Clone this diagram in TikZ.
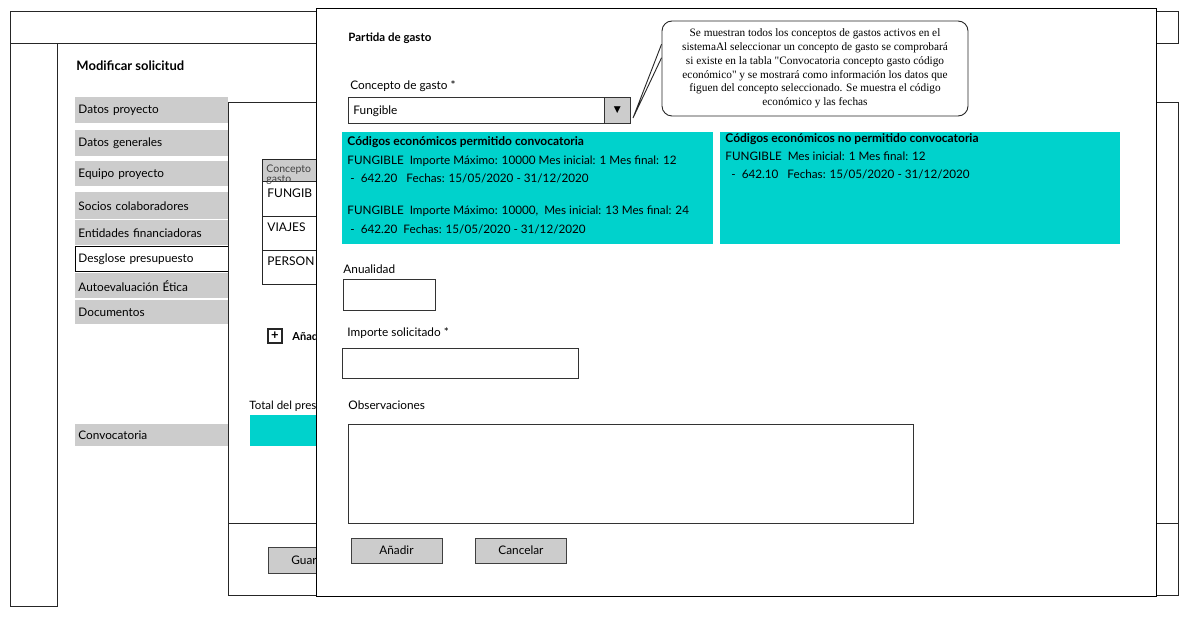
\documentclass[tikz,border=0pt]{standalone}
\usepackage{fontspec}
\setmainfont{Lato}
\newfontfamily\notefont{Liberation Serif}
\newfontfamily\dejavu{DejaVu Sans}
\usetikzlibrary{positioning}
\definecolor{menugray}{RGB}{204,204,204}
\definecolor{aqua}{RGB}{0,210,204}

\begin{document}
\begin{tikzpicture}[x=1pt, y=-1pt, line width=0.9pt,
    every node/.style={inner sep=0pt, font=\fontsize{11.8}{14}\selectfont},
    frame/.style={draw=black!85, fill=white, anchor=north west},
    item/.style={fill=menugray, anchor=north west, minimum width=153pt, text width=147pt, align=left},
    txt/.style={anchor=west},
    field/.style={draw=black!80, fill=white, anchor=north west},
    btn/.style={draw=black!75, fill=menugray, minimum width=91pt, minimum height=25pt},
    box/.style={fill=aqua, anchor=north west},
    dbl/.style={draw=black!60, double=white, double distance=1.2pt, line width=0.6pt}]
  \useasboundingbox (0,0) rectangle (1189,617);

  \node[frame, minimum width=1168pt, minimum height=32pt] (hdr) at (10,11) {};
  \node[frame, minimum width=47pt, minimum height=563pt] (side) at (10,43) {};
  \node[txt, font=\fontsize{13}{15}\selectfont\bfseries] (title) at (76,66) {Modificar solicitud};

  \node[item, minimum height=26pt] (m1) at (75,97) {Datos proyecto};
  \node[item, minimum height=26pt] (m2) at (75,130) {Datos generales};
  \node[item, minimum height=25pt] (m3) at (75,161) {Equipo proyecto};
  \node[item, minimum height=27pt] (m4) at (75,192) {Socios colaboradores};
  \node[item, minimum height=25pt] (m5) at (75,220) {Entidades financiadoras};
  \node[item, fill=white, draw=black, minimum height=25pt] (m6) at (75,246) {Desglose presupuesto};
  \node[item, minimum height=25pt] (m7) at (75,273) {Autoevaluación Ética};
  \node[item, minimum height=24pt] (m8) at (75,300) {Documentos};
  \node[item, minimum height=22pt] (m9) at (75,424) {Convocatoria};

  \node[frame, minimum width=950pt, minimum height=493pt] (panel) at (228,102) {};
  \draw[black!85] (228,523) -- (1178,523);

  \node[frame, fill=menugray, minimum width=80pt, minimum height=22pt] (th) at (262,159) {};
  \node[frame, minimum width=80pt, minimum height=35pt] (r1) at (262,181) {};
  \node[frame, minimum width=80pt, minimum height=34pt] (r2) at (262,216) {};
  \node[frame, minimum width=80pt, minimum height=34pt] (r3) at (262,250) {};
  \node[anchor=north west, align=left, text=black!75, font=\fontsize{10.5}{10}\selectfont] (thc) at (266,164) {Concepto\\gasto};
  \node[txt, font=\fontsize{12}{14}\selectfont] (c1) at (267,193) {FUNGIB};
  \node[txt, font=\fontsize{12}{14}\selectfont] (c2) at (267,227) {VIAJES};
  \node[txt, font=\fontsize{12}{14}\selectfont] (c3) at (267,261) {PERSON};

  \node[draw=black!85, line width=1.1pt, minimum size=14pt, font=\bfseries\fontsize{13}{13}\selectfont] (plus) at (275,336) {+};
  \node[txt, font=\bfseries\fontsize{11}{13}\selectfont] (addrow) at (292,336) {Añad};
  \draw[dbl] (252,363) -- (316,363);
  \node[txt, font=\fontsize{11.5}{13}\selectfont] (tot) at (249,406) {Total del pres};
  \node[box, minimum width=80pt, minimum height=31pt] (totbox) at (250,415) {};
  \draw[dbl] (252,483) -- (316,483);
  \node[btn, anchor=north west, minimum width=92pt, minimum height=26pt] (save) at (268,547) {};
  \node[txt] (savet) at (291,560) {Guar};

  \node[frame, draw=black, minimum width=840pt, minimum height=588pt] (modal) at (316,8) {};

  \node[txt, font=\bfseries\fontsize{11.5}{13}\selectfont] (head) at (348,38) {Partida de gasto};
  \node[txt] (l1) at (350,86) {Concepto de gasto *};
  \node[field, minimum width=282pt, minimum height=26pt] (combo) at (348,97) {};
  \node[txt] (sel) at (353,111) {Fungible};
  \node[field, fill=menugray, minimum width=26pt, minimum height=26pt, font=\dejavu\fontsize{9}{9}\selectfont] (drop) at (604,97) {▼};

  \node[draw=black!85, fill=white, rounded corners=10pt, minimum width=306pt, minimum height=95pt, align=center,
        font=\notefont\fontsize{11.3}{13.8}\selectfont] (note) at (815,68.5) {Se muestran todos los conceptos de gastos activos en el\\
        sistemaAl seleccionar un concepto de gasto se comprobará\\
        si existe en la tabla "Convocatoria concepto gasto código\\
        económico" y se mostrará como información los datos que\\
        figuen del concepto seleccionado. Se muestra el código\\
        económico y las fechas};
  \coordinate (tip) at (633,118);
  \draw[black!85] (note.171) -- (tip) -- (note.176);

  \node[box, minimum width=371pt, minimum height=112pt] (perm) at (342,132) {};
  \node[anchor=north west, align=left, font=\fontsize{11.7}{18.5}\selectfont] (permt) at (347,136.5) {{\bfseries\fontsize{12}{18.5}\selectfont Códigos económicos permitido convocatoria}\\
    FUNGIBLE\ \ Importe Máximo: 10000 Mes inicial: 1 Mes final: 12\\
    \ -\ \ 642.20\ \ \ Fechas: 15/05/2020 - 31/12/2020\\[13.5pt]
    FUNGIBLE\ \ Importe Máximo: 10000,\ \ Mes inicial: 13 Mes final: 24\\
    \ -\ \ 642.20\ \ Fechas: 15/05/2020 - 31/12/2020};
  \node[box, minimum width=400pt, minimum height=112pt] (noperm) at (720,132) {};
  \node[anchor=north west, align=left, font=\fontsize{11.7}{18}\selectfont] (nopermt) at (725,133) {{\bfseries\fontsize{12}{18}\selectfont Códigos económicos no permitido convocatoria}\\
    FUNGIBLE\ \ Mes inicial: 1 Mes final: 12\\
    \ \ -\ \ 642.10\ \ \ Fechas: 15/05/2020 - 31/12/2020};

  \node[txt] (l2) at (343,269) {Anualidad};
  \node[field, minimum width=92pt, minimum height=31pt] (year) at (343,279) {};
  \node[txt] (l3) at (347,333) {Importe solicitado *};
  \node[field, minimum width=236pt, minimum height=30pt] (amount) at (342,348) {};
  \node[txt] (l4) at (348,405) {Observaciones};
  \node[field, minimum width=565pt, minimum height=99pt] (obs) at (348,424) {};

  \node[btn] (add) at (396.5,550.5) {Añadir};
  \node[btn, right of=add, node distance=124.5pt] (cancel) {Cancelar};
\end{tikzpicture}
\end{document}
